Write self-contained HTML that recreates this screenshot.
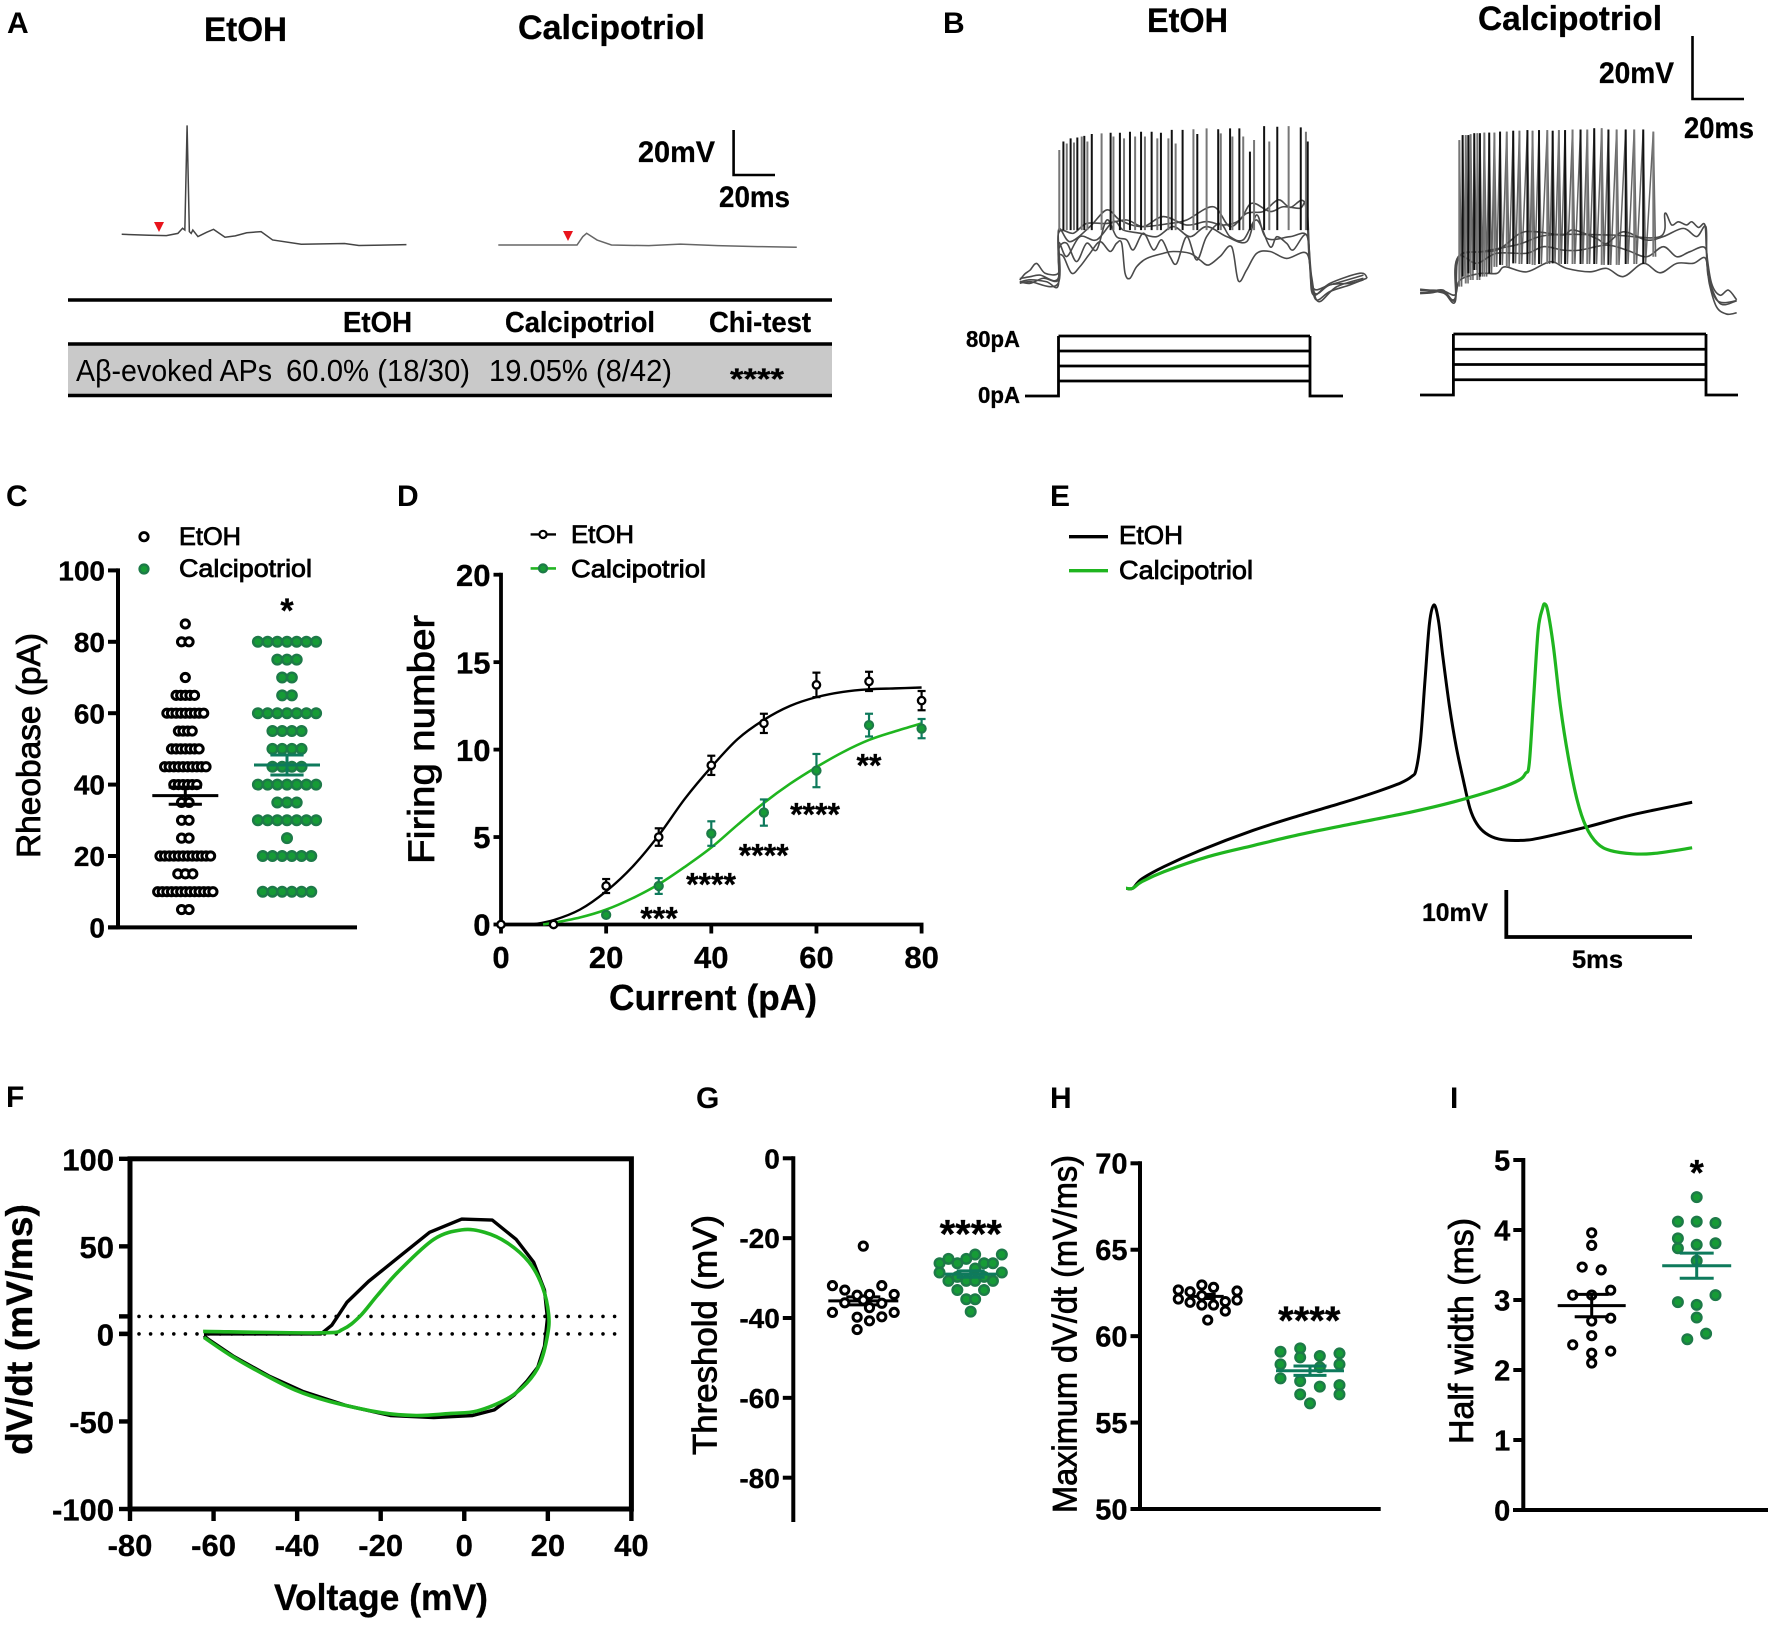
<!DOCTYPE html>
<html lang="en">
<head>
<meta charset="utf-8">
<title>Calcipotriol electrophysiology figure</title>
<style>
html,body{margin:0;padding:0;background:#fff;}
svg{display:block;}
text{font-family:"Liberation Sans",sans-serif;fill:#000;}
.b{font-weight:bold;stroke:#000;stroke-width:.3px;}
.t{font-weight:normal;stroke:#000;stroke-width:.8px;}
.plab{font-weight:bold;font-size:30px;}
</style>
</head>
<body>
<svg id="fig" xmlns="http://www.w3.org/2000/svg" width="1772" height="1629" viewBox="0 0 1772 1629">
  <g id="panel-a">
    <text class="plab" x="7" y="33">A</text>
    <text class="b" x="204" y="41" font-size="34" textLength="83" lengthAdjust="spacingAndGlyphs">EtOH</text>
    <text class="b" x="518" y="39" font-size="34" textLength="187" lengthAdjust="spacingAndGlyphs">Calcipotriol</text>
    <polygon points="154,222 164,222 159,232" fill="#e8141c"/>
    <polygon points="563,231 573,231 568,241" fill="#e8141c"/>
    <path d="M733.6 130V175H775" fill="none" stroke="#000" stroke-width="2.6"/>
    <text class="b" x="638" y="162" font-size="30" textLength="77" lengthAdjust="spacingAndGlyphs">20mV</text>
    <text class="b" x="719" y="207" font-size="30" textLength="71" lengthAdjust="spacingAndGlyphs">20ms</text>
    <rect x="68" y="344" width="764" height="51" fill="#c9c9c9"/>
    <line x1="68" x2="832" y1="300" y2="300" stroke="#000" stroke-width="3.4"/>
    <line x1="68" x2="832" y1="344" y2="344" stroke="#000" stroke-width="3.4"/>
    <line x1="68" x2="832" y1="395.5" y2="395.5" stroke="#000" stroke-width="3.4"/>
    <text class="b" x="343" y="332" font-size="29" textLength="69" lengthAdjust="spacingAndGlyphs">EtOH</text>
    <text class="b" x="505" y="332" font-size="29" textLength="150" lengthAdjust="spacingAndGlyphs">Calcipotriol</text>
    <text class="b" x="709" y="332" font-size="29" textLength="102" lengthAdjust="spacingAndGlyphs">Chi-test</text>
    <text x="76" y="381" font-size="31" fill="#111" textLength="196" lengthAdjust="spacingAndGlyphs">Aβ-evoked APs</text>
    <text x="286" y="381" font-size="31" textLength="184" lengthAdjust="spacingAndGlyphs">60.0% (18/30)</text>
    <text x="489" y="381" font-size="31" textLength="183" lengthAdjust="spacingAndGlyphs">19.05% (8/42)</text>
    <text class="b" x="730" y="389" font-size="30" textLength="54" lengthAdjust="spacingAndGlyphs">****</text>
  </g>
  <g id="panel-b">
    <text class="plab" x="943" y="33">B</text>
    <text class="b" x="1147" y="32" font-size="34" textLength="81" lengthAdjust="spacingAndGlyphs">EtOH</text>
    <text class="b" x="1478" y="30" font-size="34" textLength="184" lengthAdjust="spacingAndGlyphs">Calcipotriol</text>
    <path d="M1692.5 36V99H1744" fill="none" stroke="#000" stroke-width="2.6"/>
    <text class="b" x="1599" y="83" font-size="30" textLength="75" lengthAdjust="spacingAndGlyphs">20mV</text>
    <text class="b" x="1684" y="138" font-size="30" textLength="70" lengthAdjust="spacingAndGlyphs">20ms</text>
    <text class="b" x="966" y="347" font-size="23" textLength="54" lengthAdjust="spacingAndGlyphs">80pA</text>
    <text class="b" x="978" y="403" font-size="23" textLength="42" lengthAdjust="spacingAndGlyphs">0pA</text>
  </g>
  <g id="panel-c">
    <text class="plab" x="6" y="506">C</text>
    <circle cx="144" cy="536.7" r="4.2" fill="#fff" stroke="#000" stroke-width="2.8"/>
    <circle cx="144" cy="569" r="4.4" fill="#169b36" stroke="#1d7a48" stroke-width="2.4"/>
    <text class="t" x="179" y="545" font-size="25" textLength="62" lengthAdjust="spacingAndGlyphs">EtOH</text>
    <text class="t" x="179" y="577" font-size="25" textLength="133" lengthAdjust="spacingAndGlyphs">Calcipotriol</text>
    <text class="t" transform="translate(40 745.5) rotate(-90)" text-anchor="middle" font-size="33" textLength="225" lengthAdjust="spacingAndGlyphs">Rheobase (pA)</text>
    <text class="b" x="287" y="622" font-size="34" text-anchor="middle">*</text>
  </g>
  <g id="panel-d">
    <text class="plab" x="397" y="506">D</text>
    <line x1="530.6" x2="556" y1="534.4" y2="534.4" stroke="#000" stroke-width="2.4"/>
    <circle cx="543" cy="534.4" r="3.6" fill="#fff" stroke="#000" stroke-width="2.2"/>
    <line x1="530.6" x2="556" y1="568.4" y2="568.4" stroke="#23b523" stroke-width="2.6"/>
    <circle cx="543" cy="568.4" r="4" fill="#169b36" stroke="#1d7a48" stroke-width="2.2"/>
    <text class="t" x="571" y="543" font-size="25" textLength="63" lengthAdjust="spacingAndGlyphs">EtOH</text>
    <text class="t" x="571" y="577.5" font-size="25" textLength="135" lengthAdjust="spacingAndGlyphs">Calcipotriol</text>
    <text class="t" transform="translate(434 739.5) rotate(-90)" text-anchor="middle" font-size="37" textLength="249" lengthAdjust="spacingAndGlyphs">Firing number</text>
    <text class="b" x="609" y="1010" font-size="36" textLength="208" lengthAdjust="spacingAndGlyphs">Current (pA)</text>
    <text class="b" x="659" y="929.6" font-size="32" text-anchor="middle">***</text>
    <text class="b" x="711" y="895.6" font-size="32" text-anchor="middle">****</text>
    <text class="b" x="763.7" y="866.6" font-size="32" text-anchor="middle">****</text>
    <text class="b" x="815" y="825.6" font-size="32" text-anchor="middle">****</text>
    <text class="b" x="869" y="776.6" font-size="32" text-anchor="middle">**</text>
  </g>
  <g id="panel-e">
    <text class="plab" x="1050" y="506">E</text>
    <line x1="1069" x2="1108" y1="536.7" y2="536.7" stroke="#000" stroke-width="3.4"/>
    <line x1="1069" x2="1108" y1="570.7" y2="570.7" stroke="#1fb51f" stroke-width="3.4"/>
    <text class="t" x="1119" y="544" font-size="26" textLength="64" lengthAdjust="spacingAndGlyphs">EtOH</text>
    <text class="t" x="1119" y="579" font-size="26" textLength="134" lengthAdjust="spacingAndGlyphs">Calcipotriol</text>
    <path d="M1506.3 890V937H1692" fill="none" stroke="#000" stroke-width="3.8"/>
    <text class="b" x="1422" y="921" font-size="25" textLength="66" lengthAdjust="spacingAndGlyphs">10mV</text>
    <text class="b" x="1572" y="968" font-size="25" textLength="51" lengthAdjust="spacingAndGlyphs">5ms</text>
  </g>
  <g id="panel-f">
    <text class="plab" x="6" y="1107">F</text>
    <text class="b" transform="translate(32 1329.5) rotate(-90)" text-anchor="middle" font-size="37" textLength="251" lengthAdjust="spacingAndGlyphs">dV/dt (mV/ms)</text>
    <text class="b" x="274" y="1610" font-size="37" textLength="214" lengthAdjust="spacingAndGlyphs">Voltage (mV)</text>
  </g>
  <g id="panel-g">
    <text class="plab" x="696" y="1108">G</text>
    <text class="t" transform="translate(716.7 1335) rotate(-90)" text-anchor="middle" font-size="34" textLength="240" lengthAdjust="spacingAndGlyphs">Threshold (mV)</text>
    <text class="b" x="970.7" y="1247.7" font-size="40" text-anchor="middle">****</text>
  </g>
  <g id="panel-h">
    <text class="plab" x="1050" y="1108">H</text>
    <text class="t" transform="translate(1076.7 1334) rotate(-90)" text-anchor="middle" font-size="34" textLength="358" lengthAdjust="spacingAndGlyphs">Maximum dV/dt (mV/ms)</text>
    <text class="b" x="1309.3" y="1334" font-size="40" text-anchor="middle">****</text>
  </g>
  <g id="panel-i">
    <text class="plab" x="1450" y="1108">I</text>
    <text class="t" transform="translate(1473 1331) rotate(-90)" text-anchor="middle" font-size="34" textLength="226" lengthAdjust="spacingAndGlyphs">Half width (ms)</text>
    <text class="b" x="1696.7" y="1185" font-size="36" text-anchor="middle">*</text>
  </g>
</svg>
<script>
/* ---------- Panel A traces: [ms, mV] ---------- */
const aEtohTrace = [[0,0],[13.4,-0.4],[21.8,-0.6],[27.4,0.4],[29.7,2.7],[30.8,1.9],[31.9,48.4],[33,1.2],[33.9,0.4],[34.7,1.9],[37.2,-1],[41.4,0.9],[44.8,2.2],[50.4,-1.3],[55.4,-0.7],[61,0.7],[68,1.2],[73.6,-2.5],[87.6,-4.4],[108.7,-4.1],[115.7,-5],[138.9,-4.6]];
const aCalTrace = [[0,0],[38.4,0],[41.2,3.7],[43.1,5.2],[48.2,2.2],[55.2,0],[73.4,-0.3],[88.8,0.4],[107,-0.3],[126.6,-0.7],[145.6,-1]];

/* ---------- Panel B sweeps: [ms, mV] ---------- */
const bEtohSweeps = [
 [[-15,1],[-13,3],[-11,4.2],[-8.5,6.3],[-5.2,3.2],[-0.1,3.2],[0,8.5],[1.9,8.5],[5.1,3.2],[8.3,5.3],[12.2,9.5],[16.1,13.2],[20,10.1],[22.5,12.7],[24.5,12.7],[25.8,3.2],[27.7,1.6],[30.3,5.3],[34.2,7.9],[40.6,9.5],[44.5,10.1],[51,9.5],[54.8,7.4],[58.1,5.8],[62.6,8.5],[67.1,11.6],[69.7,0.8],[72.9,4.2],[76.8,9.5],[82,10.1],[88.4,7.9],[96.2,9.5],[98.1,0],[100,-5.3],[105.2,-2.6],[113,-0.5],[119.4,1.6]],
 [[-15,0.5],[-11,0],[-5.9,1.6],[-0.1,1.1],[0,10.6],[3.2,12.7],[7,6.9],[10.9,12.7],[14.8,10.6],[18.7,20.1],[22.5,14.8],[26.4,13.8],[29,10.6],[32.9,15.9],[36.8,10.6],[40,13.8],[43.2,8.5],[45.8,6.3],[49.7,14.8],[53.6,7.4],[57.4,14.8],[62.6,19],[66.5,14.8],[71.6,13.8],[76.8,20.1],[82,11.6],[84.6,14.8],[88.4,12.7],[91,10.6],[96.2,15.3],[98.1,2.1],[100.7,-5.8],[107.8,-1.1],[118.2,1.6]],
 [[-15,0.4],[-11,1.1],[-4.6,0.5],[-0.1,-0.7],[0,12.7],[3.2,8.5],[8.3,14.8],[14.8,13.8],[21.3,19.6],[25.1,16.9],[31.6,15.9],[38,14.8],[44.5,18],[51,14.8],[57.4,18],[65.2,14.8],[72.9,13.2],[76.8,21.7],[80.7,14.3],[89.7,14.8],[96.2,15.3],[97.5,5.3],[99.4,-3.2],[105.2,-0.5],[113,0],[118.2,1.1]],
 [[-15,1.5],[-11,2.1],[-7.2,2.6],[-0.1,1.6],[0,15.9],[5.8,15.9],[10.9,19],[18.7,19],[26.4,20.1],[32.9,18],[40.6,21.2],[49.7,18.5],[57.4,19.6],[63.9,18.5],[70.3,20.1],[74.9,25.4],[82,22.8],[87.1,24.3],[93.6,23.8],[96.2,24.9],[97.5,5.3],[98.8,-3.7],[105.2,0],[116.9,3.2],[119.7,1.6]],
 [[-15,0],[-11,0.5],[-0.1,0],[0,16.9],[4.5,13.2],[12.2,18],[18.7,23.3],[23.8,20.1],[31.6,18],[43.2,19],[49.7,20.1],[60,24.3],[66.5,18],[72.9,22.2],[79.4,22.8],[85.2,26.5],[89.7,24.1],[95.5,25.4],[97.2,7.4],[98.8,-1.6],[105.2,-0.5],[118.2,2.6]]
];
const bEtohSpikeTimes = [0.3,1.9,3.2,4.7,6,7.3,9,10,11.2,12.9,16.7,20.2,21.3,23.8,25.4,27.7,29.7,32,33.5,36.1,38.3,39.7,42.6,43.9,45.4,48.1,52.3,53.8,57.4,61.9,62.9,66.5,67.4,70.1,71.6,74.2,75.8,79.7,81.7,84.8,89.2,93.9,95.9,96.6];
const bEtohSpikePeaks = [42.3,45,44.4,46,44.7,46.3,46.6,46.8,45,47.4,47.6,47.8,46.6,47.8,46,48.1,46.6,48.1,46.6,48.1,46,47.8,46,48.7,44.4,48.7,48.9,47.4,49.2,48.9,47.6,49.2,46.6,49.2,46.6,41.8,45.5,49.9,45,49.7,49.9,49.5,48.1,45];
const bEtohSpikeBase = 16.9;
const bCalSweeps = [
 [[-14,0.4],[-10,0.5],[-5,0],[-0.4,-3.2],[1,11],[10,12.7],[24,15],[36,18],[60,18],[79,17.5],[80.9,24.9],[83.5,21.2],[86.1,22.2],[89.3,21.2],[91.3,22.2],[93.9,20.4],[96.4,21.2],[97.1,12.2],[99,2.6],[102.2,-1.1],[105.5,0.5],[108.7,-2.6]],
 [[-14,-0.3],[-10,0],[-5,0.5],[-0.4,-2.6],[0.8,11.1],[15.7,13.2],[24.7,18.5],[31.2,19],[41.5,18],[45.4,19.6],[54.4,16.9],[58.3,15.3],[64.8,19],[73.8,16.4],[80.3,17.5],[88,20.1],[93.2,17.5],[96.8,20.6],[97.3,7.9],[100.9,-2.6],[108.7,-2.9]],
 [[-14,0.8],[-10,0.4],[-5,-0.4],[-0.4,-2],[0.8,11.1],[7.9,9],[15.7,12.2],[27.3,12.2],[33.8,14.3],[41.5,13.2],[48,13.2],[58.3,14.8],[66.1,13.2],[73.8,11.1],[80.3,14.3],[85.5,11.1],[90.6,12.7],[96.6,13.8],[97.7,4.8],[102.2,-3.7],[108.7,-2.9]],
 [[-14,-0.6],[-10,-0.4],[-5,0.2],[-0.4,-1],[1.5,3.7],[9.2,5.8],[15.7,5.8],[18.9,7.9],[27.3,6.3],[36.4,9.5],[42.8,7.4],[51.9,6.3],[58.3,7.4],[64.8,4.8],[72.5,9],[79,6],[85.5,9],[91.9,9],[96.6,10.6],[98.1,2.6],[100.9,-4.8],[104.8,-7.1],[108.7,-6.7]]
];
const bCalSpikeTimes = [1.2,2.5,3.7,4.7,5.6,7,8.2,9.2,10.9,12.8,14.8,17,19.6,22.1,24.5,27.6,29.6,32.1,35.3,37.4,39.8,42.2,45.1,48.2,50.8,53.5,56.4,59,62.2,65.7,69,72.5,76.4];
const bCalSpikePeaks = [48.1,49.7,49.7,49.7,50,50.3,50.3,50.3,50.5,50.5,50.5,50.8,50.8,51.1,51.1,51.3,51.1,51.3,51.3,51.1,51.3,51.3,51.5,51.5,51.5,51.9,51.9,51.5,51.5,51.5,51.5,51.5,50.8];
const bCalSpikeTroughs = [1.6,4.8,2.6,5.8,3.7,6.9,3.7,4.8,4.8,5.8,7.9,8.5,7.9,9,8.8,8.8,8.5,8.8,8.8,9,8.8,8.8,8.8,8.8,8.8,8.8,8.5,8.5,8.5,8.8,8.8,8.8,11.1];
const bStimLevels = [20,40,60,80];

/* ---------- Panel C ---------- */
const cEtohRheobase = [85,80,80,70,65,65,65,65,65,60,60,60,60,60,60,60,60,60,55,55,55,55,50,50,50,50,50,50,50,45,45,45,45,45,45,45,45,45,45,40,40,40,40,40,40,35,35,30,30,25,25,20,20,20,20,20,20,20,20,20,20,20,20,15,15,15,10,10,10,10,10,10,10,10,10,10,10,10,10,5,5];
const cCalRheobase = [80,80,80,80,80,80,80,75,75,75,70,70,65,65,60,60,60,60,60,60,60,55,55,55,55,50,50,50,50,45,45,45,45,40,40,40,40,40,40,40,35,35,35,30,30,30,30,30,30,30,25,20,20,20,20,20,20,10,10,10,10,10,10];
const cEtohMean = 36.9, cEtohSem = 2.4, cCalMean = 45.5, cCalSem = 2.8;
const cTicks = [0,20,40,60,80,100];

/* ---------- Panel D ---------- */
const dCurrents = [0,10,20,30,40,50,60,70,80];
const dEtohFiring = [0,0,2.2,5,9.1,11.5,13.7,13.9,12.8];
const dEtohErr = [0,0,0.4,0.5,0.55,0.55,0.7,0.55,0.55];
const dCalCurrents = [20,30,40,50,60,70,80];
const dCalFiring = [0.55,2.2,5.2,6.4,8.8,11.4,11.2];
const dCalErr = [0,0.45,0.7,0.75,0.95,0.65,0.55];
const dEtohFitX = [6,10,15,20,25,30,35,40,45,50,55,60,65,70,75,80];
const dEtohFitY = [0,0.25,0.85,1.9,3.3,5.1,7.2,9,10.6,11.7,12.5,13,13.3,13.45,13.5,13.55];
const dCalFitX = [8,10,15,20,25,30,35,40,45,50,55,60,65,70,75,80];
const dCalFitY = [0,0.1,0.4,0.85,1.5,2.3,3.3,4.4,5.7,6.95,8.05,9,9.85,10.55,11.05,11.5];
const dXTicks = [0,20,40,60,80];
const dYTicks = [0,5,10,15,20];

/* ---------- Panel E: [ms, mV] ---------- */
const eEtohTrace = [[0,0],[0.18,0],[0.42,2],[1.02,4.7],[1.99,8.2],[3.43,12.6],[4.63,15.7],[5.84,18.6],[6.8,21.1],[7.4,22.9],[7.7,24.3],[7.82,25.8],[7.94,32.3],[8.06,45.3],[8.18,57.6],[8.3,61.6],[8.42,58.3],[8.54,50.4],[8.72,39.5],[8.9,30.8],[9.09,23.6],[9.27,17.4],[9.45,14.1],[9.69,12],[10.05,10.7],[10.59,10.4],[11.13,10.9],[12.45,13.4],[13.66,16],[15.26,18.7]];
const eCalTrace = [[0,0],[0.18,0],[0.42,1.4],[1.02,3.6],[2.22,6.9],[3.43,9.3],[4.63,11.6],[5.84,13.6],[7.64,16.5],[8.84,18.8],[10.05,21.7],[10.59,23.5],[10.77,25],[10.87,27.2],[10.99,41.7],[11.11,56.2],[11.23,60.9],[11.29,61.8],[11.37,60.2],[11.52,52.6],[11.71,39.5],[11.92,28.6],[12.16,19.2],[12.4,13.4],[12.7,9.8],[13.06,8.2],[13.66,7.5],[14.26,7.6],[15.26,8.8]];

/* ---------- Panel F: [mV, dV/dt] ---------- */
const fEtohLoop = [[-62.3,0],[-34.3,0],[-31.7,5],[-28.1,18],[-22.9,30],[-15.6,44],[-8.3,58],[-0.6,65.6],[6.7,65],[12.4,54],[16.6,41],[19.2,25],[19.9,9],[19.2,-7],[17.6,-19],[15,-27],[11.9,-35],[7.2,-43.4],[2,-46.6],[-7.3,-47.8],[-17.7,-46.6],[-28.1,-41],[-38.5,-33],[-46.8,-24],[-55.1,-13],[-61.3,-3],[-62.3,-1]];
const fCalLoop = [[-62.5,1.4],[-34.3,0.6],[-29.1,2.6],[-25,10],[-20.8,22],[-15.6,36],[-7.3,54],[-0.6,59.4],[4.9,58],[10.3,52],[15.5,41],[18.7,27],[20.2,11],[19.9,-1],[18.1,-17],[15,-28],[10.3,-37],[3.1,-44],[-3.2,-45.4],[-11.5,-46.6],[-19.8,-45],[-32.2,-38.6],[-40.5,-32],[-48.8,-22],[-56.1,-12],[-62.3,-2]];
const fXTicks = [-80,-60,-40,-20,0,20,40];
const fYTicks = [-100,-50,0,50,100];
const fThresholdLines = [0,10];

/* ---------- Panel G: value + swarm slot ---------- */
const gEtohValues = [-22,-31.9,-33,-34.3,-34.1,-31.9,-34.1,-36.2,-36.3,-35.5,-37.4,-38.6,-39.8,-40.7,-39.7,-38.6,-42.9];
const gEtohSlots = [0,-5,-3,-1,1,3,5,-3,3,0,1,-5,-1,1,3,5,-1];
const gCalValues = [-24.1,-24.1,-25.2,-25.2,-26.3,-26.3,-26.3,-26.3,-27.6,-28.6,-28.6,-30.7,-29.7,-30.7,-30.7,-29.7,-30.7,-33,-33,-35.3,-35.3,-38.4];
const gCalSlots = [1,7,-5,-1,-7,-3,3,5,1,-7,7,-5,-3,-1,1,3,5,-3,3,-1,1,0];
const gEtohMean = -35.7, gEtohSem = 1, gCalMean = -29, gCalSem = 0.8;
const gTicks = [0,-20,-40,-60,-80];

/* ---------- Panel H ---------- */
const hEtohValues = [62.67,62.57,62.96,62.82,62.61,62.15,61.96,62.34,61.8,61.8,62,62.09,61.45,60.93];
const hEtohSlots = [-5,-3,-1,1,5,-5,-3,-1,-1,1,3,5,3,0];
const hCalValues = [59.1,59.29,58.77,58.85,59,58.37,58.2,58.37,57.56,57.4,57.08,57.17,56.63,56.63,56.11];
const hCalSlots = [-3,-1,-1,1,3,-3,1,3,-3,-1,1,3,-1,3,0];
const hEtohMean = 62.3, hEtohSem = 0.12, hCalMean = 58, hCalSem = 0.27;
const hTicks = [50,55,60,65,70];

/* ---------- Panel I ---------- */
const iEtohValues = [3.96,3.78,3.47,3.43,3.07,3.07,3.14,2.7,2.74,2.49,2.36,2.27,2.24,2.1];
const iEtohSlots = [0,0,-1,1,-2,0,2,0,2,0,-2,2,0,0];
const iCalValues = [4.47,4.12,4.12,4.1,3.88,3.74,3.79,3.81,3.56,3.07,2.97,2.93,2.75,2.52,2.44];
const iCalSlots = [0,-2,0,2,-2,-2,0,2,0,2,-2,0,0,1,-1];
const iEtohMean = 2.92, iEtohSem = 0.16, iCalMean = 3.49, iCalSem = 0.18;
const iTicks = [0,1,2,3,4,5];

/* ---------- helpers ---------- */
const NS = 'http://www.w3.org/2000/svg';
const GREEN_FILL = '#169b36', GREEN_EDGE = '#1d7a48', TEAL = '#0e7a5c', LINE_GREEN = '#1fb51f';
function mk(parent, tag, attrs) {
  const el = document.createElementNS(NS, tag);
  for (const k in attrs) el.setAttribute(k, attrs[k]);
  parent.appendChild(el);
  return el;
}
function linScale(d0, d1, r0, r1) { return v => r0 + (v - d0) * (r1 - r0) / (d1 - d0); }
function polyD(pts) { return pts.map((p, i) => (i ? 'L' : 'M') + p[0].toFixed(2) + ' ' + p[1].toFixed(2)).join(''); }
function smoothD(pts) {
  let d = 'M' + pts[0][0].toFixed(2) + ' ' + pts[0][1].toFixed(2);
  for (let i = 0; i < pts.length - 1; i++) {
    const p0 = pts[Math.max(i - 1, 0)], p1 = pts[i], p2 = pts[i + 1], p3 = pts[Math.min(i + 2, pts.length - 1)];
    d += 'C' + (p1[0] + (p2[0] - p0[0]) / 6).toFixed(2) + ' ' + (p1[1] + (p2[1] - p0[1]) / 6).toFixed(2) + ' ' +
         (p2[0] - (p3[0] - p1[0]) / 6).toFixed(2) + ' ' + (p2[1] - (p3[1] - p1[1]) / 6).toFixed(2) + ' ' +
         p2[0].toFixed(2) + ' ' + p2[1].toFixed(2);
  }
  return d;
}
function yAxis(g, ticks, sy, x, top, bottom, tickLen, fs, lw) {
  const ax = mk(g, 'line', {x1: x, x2: x, y1: top - lw / 2, y2: bottom + lw / 2, stroke: '#000', 'stroke-width': lw});
  
  
  ticks.forEach(t => {
    const tk = mk(g, 'line', {x1: x - tickLen, x2: x, y1: sy(t), y2: sy(t), stroke: '#000', 'stroke-width': lw});
    
    
    const lb = mk(g, 'text', {x: x - tickLen - 3, y: sy(t) + fs * 0.36, 'text-anchor': 'end', 'font-size': fs, 'class': 'b'});
    lb.textContent = String(t);
    
    
  });
}
function hAxisLine(g, x1, x2, y, lw) {
  const ax = mk(g, 'line', {x1: x1, x2: x2, y1: y, y2: y, stroke: '#000', 'stroke-width': lw});
  
  
}
function xTicks(g, ticks, sx, y, tickLen, fs, lw, baseline) {
  ticks.forEach(t => {
    const tk = mk(g, 'line', {x1: sx(t), x2: sx(t), y1: y, y2: y + tickLen, stroke: '#000', 'stroke-width': lw});
    
    
    const lb = mk(g, 'text', {x: sx(t), y: baseline, 'text-anchor': 'middle', 'font-size': fs, 'class': 'b'});
    lb.textContent = String(t);
    
    
  });
}
function dotAttrs(cx, cy, green) {
  return green ? {cx: cx, cy: cy, r: 4.8, fill: GREEN_FILL, stroke: GREEN_EDGE, 'stroke-width': 2.4}
               : {cx: cx, cy: cy, r: 4.1, fill: '#fff', stroke: '#000', 'stroke-width': 3};
}
function meanBars(g, cx, sy, mean, sem, half, capHalf, color) {
  const spec = [
    [cx - half, cx + half, sy(mean), sy(mean)],
    [cx - capHalf, cx + capHalf, sy(mean + sem), sy(mean + sem)],
    [cx - capHalf, cx + capHalf, sy(mean - sem), sy(mean - sem)],
    [cx, cx, sy(mean + sem), sy(mean - sem)]
  ];
  spec.forEach(s => {
    const l = mk(g, 'line', {x1: s[0], x2: s[1], y1: s[2], y2: s[3], stroke: color, 'stroke-width': 3});
    
    
  });
}
function slotDots(g, cx, sy, values, slots, slotW, green) {
  values.forEach((v, i) => {
    const c = mk(g, 'circle', dotAttrs(cx + slots[i] * slotW, sy(v), green));
    
    
  });
}
function panel(id) { return document.getElementById(id); }

/* ---------- Panel A ---------- */
(function () {
  const g = panel('panel-a');
  const sxE = linScale(0, 20, 121.7, 162.7), sxC = linScale(0, 20, 498.3, 539.3);
  const syE = linScale(0, 20, 234.3, 189.3), syC = linScale(0, 20, 245, 200);
  const p1 = mk(g, 'path', {d: polyD(aEtohTrace.map(p => [sxE(p[0]), syE(p[1])])), fill: 'none', stroke: '#444', 'stroke-width': 1.5});
  
  
  const p2 = mk(g, 'path', {d: polyD(aCalTrace.map(p => [sxC(p[0]), syC(p[1])])), fill: 'none', stroke: '#666', 'stroke-width': 1.5});
  
  
})();

/* ---------- Panel B ---------- */
(function () {
  const g = panel('panel-b');
  function drawSet(sweeps, times, peaks, bases, x0, y0, zigzag) {
    const sx = linScale(0, 20, x0, x0 + 51.6), sy = linScale(0, 20, y0, y0 - 63);
    if (zigzag) {
      const zpts = [];
      times.forEach((t, i) => { zpts.push([sx(t), sy(peaks[i])]); zpts.push([sx(t + 0.9), sy(bases[i])]); });
      const z = mk(g, 'path', {d: polyD(zpts), fill: 'none', stroke: '#666', 'stroke-width': 1.5});
      
      
    }
    sweeps.forEach(s => {
      const p = mk(g, 'path', {d: smoothD(s.map(q => [sx(q[0]), sy(q[1])])), fill: 'none', stroke: '#4a4a4a', 'stroke-width': 1.6, 'stroke-linejoin': 'round'});
      
      
    });
    times.forEach((t, i) => {
      const l = mk(g, 'line', {x1: sx(t), x2: sx(t), y1: sy(bases[i]), y2: sy(peaks[i]), stroke: i % 2 ? '#111' : '#777', 'stroke-width': 2});
      
      
    });
  }
  drawSet(bEtohSweeps, bEtohSpikeTimes, bEtohSpikePeaks, bEtohSpikeTimes.map(() => bEtohSpikeBase), 1058.5, 283.3, false);
  drawSet(bCalSweeps, bCalSpikeTimes, bCalSpikePeaks, bCalSpikeTroughs, 1456.2, 291.7, true);
  function stim(xa, xb, xl, xr, y0, y80) {
    const sy = linScale(0, 80, y0, y80);
    const base = mk(g, 'path', {d: 'M' + xa + ' ' + y0 + 'H' + xl + 'V' + y80 + 'M' + xr + ' ' + y80 + 'V' + y0 + 'H' + xb, fill: 'none', stroke: '#000', 'stroke-width': 2.8});
    
    
    bStimLevels.forEach(v => {
      const l = mk(g, 'line', {x1: xl, x2: xr, y1: sy(v), y2: sy(v), stroke: '#000', 'stroke-width': 2.8});
      
      
    });
  }
  stim(1025, 1343, 1058.5, 1310, 396, 336);
  stim(1420, 1738, 1453.4, 1706, 395, 334);
})();

/* ---------- Panel C ---------- */
(function () {
  const g = panel('panel-c');
  const sy = linScale(0, 100, 927.4, 570.4);
  yAxis(g, cTicks, sy, 118, 570.4, 927.4, 10, 28, 4);
  hAxisLine(g, 108, 357, 927.4, 4);
  function swarm(values, cx, spacingFn, green) {
    const rows = {};
    values.forEach(v => { (rows[v] = rows[v] || []).push(v); });
    Object.keys(rows).forEach(k => {
      const n = rows[k].length, sp = spacingFn(n);
      rows[k].forEach((v, i) => {
        const c = mk(g, 'circle', dotAttrs(cx + (i - (n - 1) / 2) * sp, sy(v), green));
        
        
      });
    });
  }
  swarm(cEtohRheobase, 185.3, n => n <= 3 ? 7.5 : 4.6, false);
  swarm(cCalRheobase, 287, () => 9.7, true);
  meanBars(g, 185.3, sy, cEtohMean, cEtohSem, 33, 16.6, '#000');
  meanBars(g, 287, sy, cCalMean, cCalSem, 33, 16.6, TEAL);
})();

/* ---------- Panel D ---------- */
(function () {
  const g = panel('panel-d');
  const sx = linScale(0, 80, 501, 921.6), sy = linScale(0, 20, 924.5, 574.7);
  yAxis(g, dYTicks, sy, 501, 574.7, 924.5, 7.5, 31, 3.8);
  hAxisLine(g, 499, 923.5, 924.5, 3.8);
  xTicks(g, dXTicks, sx, 924.5, 9, 31, 3.8, 968);
  const f1 = mk(g, 'path', {d: smoothD(dEtohFitX.map((x, i) => [sx(x), sy(dEtohFitY[i])])), fill: 'none', stroke: '#000', 'stroke-width': 2.4});
  
  
  const f2 = mk(g, 'path', {d: smoothD(dCalFitX.map((x, i) => [sx(x), sy(dCalFitY[i])])), fill: 'none', stroke: LINE_GREEN, 'stroke-width': 2.6});
  
  
  function errs(xs, ys, es, color) {
    xs.forEach((x, i) => {
      if (!es[i]) return;
      const spec = [[sx(x), sx(x), sy(ys[i] + es[i]), sy(ys[i] - es[i])],
                    [sx(x) - 4, sx(x) + 4, sy(ys[i] + es[i]), sy(ys[i] + es[i])],
                    [sx(x) - 4, sx(x) + 4, sy(ys[i] - es[i]), sy(ys[i] - es[i])]];
      spec.forEach(s => {
        const l = mk(g, 'line', {x1: s[0], x2: s[1], y1: s[2], y2: s[3], stroke: color, 'stroke-width': 2.2});
        
        
      });
    });
  }
  errs(dCurrents, dEtohFiring, dEtohErr, '#000');
  errs(dCalCurrents, dCalFiring, dCalErr, TEAL);
  dCurrents.forEach((x, i) => {
    const c = mk(g, 'circle', {cx: sx(x), cy: sy(dEtohFiring[i]), r: 3.7, fill: '#fff', stroke: '#000', 'stroke-width': 2.3});
    
    
  });
  dCalCurrents.forEach((x, i) => {
    const c = mk(g, 'circle', {cx: sx(x), cy: sy(dCalFiring[i]), r: 4.1, fill: GREEN_FILL, stroke: GREEN_EDGE, 'stroke-width': 2.1});
    
    
  });
})();

/* ---------- Panel E ---------- */
(function () {
  const g = panel('panel-e');
  const sx = linScale(0, 5, 1126, 1311.5), sy = linScale(0, 10, 888.3, 842.3);
  const a = mk(g, 'path', {d: smoothD(eEtohTrace.map(p => [sx(p[0]), sy(p[1])])), fill: 'none', stroke: '#000', 'stroke-width': 3});
  
  
  const b = mk(g, 'path', {d: smoothD(eCalTrace.map(p => [sx(p[0]), sy(p[1])])), fill: 'none', stroke: LINE_GREEN, 'stroke-width': 3.2});
  
  
})();

/* ---------- Panel F ---------- */
(function () {
  const g = panel('panel-f');
  const sx = linScale(-80, 40, 130, 631.4), sy = linScale(-100, 100, 1509, 1158.8);
  const box = mk(g, 'rect', {x: 130, y: 1158.8, width: 501.4, height: 350.2, fill: 'none', stroke: '#000', 'stroke-width': 5});
  
  
  fYTicks.forEach(t => {
    const tk = mk(g, 'line', {x1: 119, x2: 130, y1: sy(t), y2: sy(t), stroke: '#000', 'stroke-width': 4.4});
    
    
    const lb = mk(g, 'text', {x: 114, y: sy(t) + 11.5, 'text-anchor': 'end', 'font-size': 31, 'class': 'b'});
    lb.textContent = String(t);
    
    
  });
  fThresholdLines.forEach(v => {
    const tk = mk(g, 'line', {x1: 119, x2: 130, y1: sy(v), y2: sy(v), stroke: '#000', 'stroke-width': 4.4});
    
    
    const l = mk(g, 'line', {x1: 139, x2: 625, y1: sy(v), y2: sy(v), stroke: '#000', 'stroke-width': 3.6, 'stroke-linecap': 'round', 'stroke-dasharray': '0 11.6'});
    
    
  });
  xTicks(g, fXTicks, sx, 1509, 12, 31, 4.4, 1556);
  const a = mk(g, 'path', {d: polyD(fEtohLoop.map(p => [sx(p[0]), sy(p[1])])), fill: 'none', stroke: '#000', 'stroke-width': 3.4, 'stroke-linejoin': 'round'});
  
  
  const b = mk(g, 'path', {d: smoothD(fCalLoop.map(p => [sx(p[0]), sy(p[1])])), fill: 'none', stroke: LINE_GREEN, 'stroke-width': 3.6, 'stroke-linejoin': 'round'});
  
  
})();

/* ---------- Panel G ---------- */
(function () {
  const g = panel('panel-g');
  const sy = linScale(0, -80, 1158.3, 1477.7);
  yAxis(g, gTicks, sy, 793.3, 1158.3, 1520, 10.5, 28, 4);
  meanBars(g, 863.3, sy, gEtohMean, gEtohSem, 35, 17, '#000');
  slotDots(g, 863.3, sy, gEtohValues, gEtohSlots, 6.17, false);
  slotDots(g, 970.7, sy, gCalValues, gCalSlots, 4.45, true);
  meanBars(g, 970.7, sy, gCalMean, gCalSem, 26, 14, TEAL);
})();

/* ---------- Panel H ---------- */
(function () {
  const g = panel('panel-h');
  const sy = linScale(50, 70, 1509, 1163.3);
  yAxis(g, hTicks, sy, 1140, 1163.3, 1509, 9.5, 29, 4);
  hAxisLine(g, 1130.7, 1380.7, 1509, 4);
  meanBars(g, 1207.7, sy, hEtohMean, hEtohSem, 16, 8, '#000');
  slotDots(g, 1207.7, sy, hEtohValues, hEtohSlots, 5.87, false);
  slotDots(g, 1310, sy, hCalValues, hCalSlots, 9.83, true);
  meanBars(g, 1310, sy, hCalMean, hCalSem, 34, 16.5, TEAL);
})();

/* ---------- Panel I ---------- */
(function () {
  const g = panel('panel-i');
  const sy = linScale(0, 5, 1510, 1160);
  yAxis(g, iTicks, sy, 1523.3, 1160, 1510, 10, 29, 4);
  hAxisLine(g, 1513, 1768, 1510, 4);
  slotDots(g, 1591.7, sy, iEtohValues, iEtohSlots, 9.5, false);
  meanBars(g, 1591.7, sy, iEtohMean, iEtohSem, 34, 17, '#000');
  slotDots(g, 1696.7, sy, iCalValues, iCalSlots, 9.4, true);
  meanBars(g, 1696.7, sy, iCalMean, iCalSem, 34.5, 17, TEAL);
})();
</script>
</body>
</html>
